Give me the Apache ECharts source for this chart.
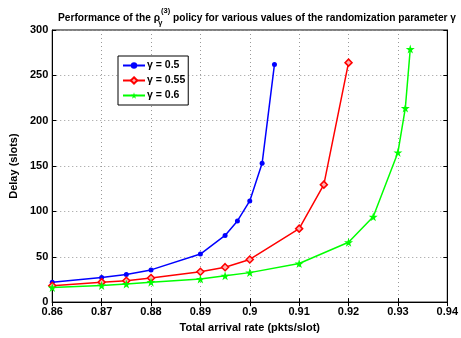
<!DOCTYPE html>
<html>
<head>
<meta charset="utf-8">
<script src="https://cdn.jsdelivr.net/npm/echarts@6/dist/echarts.min.js"></script>
<style>
html, body { margin: 0; padding: 0; background: #fff; }
#chart { width: 461px; height: 338px; }
</style>
</head>
<body>
<div id="chart"></div>
<script>
var xBlue = [0.86, 0.87, 0.875, 0.88, 0.89, 0.895, 0.8975, 0.9, 0.9025, 0.905];
var yBlue = [22, 27, 30.5, 35.5, 53, 73.5, 89.5, 111.5, 153, 262];
var xRed = [0.86, 0.87, 0.875, 0.88, 0.89, 0.895, 0.9, 0.91, 0.915, 0.92];
var yRed = [18, 22, 23.5, 26.5, 33.5, 38.5, 47, 81, 129.5, 264];
var xGreen = [0.86, 0.87, 0.875, 0.88, 0.89, 0.895, 0.9, 0.91, 0.92, 0.925, 0.93, 0.9315, 0.9325];
var yGreen = [16, 18.3, 20, 22, 25.5, 29, 32.5, 42.5, 66, 94, 165, 214, 279];
var seriesNames = ['γ = 0.5', 'γ = 0.55', 'γ = 0.6'];
var xTicks = [0.86, 0.87, 0.88, 0.89, 0.9, 0.91, 0.92, 0.93, 0.94];

var star = 'path://M50,0 L61,35 L98,35 L68,57 L79,91 L50,70 L21,91 L32,57 L2,35 L39,35 Z';

function pairs(xs, ys) {
    return xs.map(function (x, i) { return [x, ys[i]]; });
}

var chartDom = document.getElementById('chart');
var myChart = echarts.init(chartDom);
var font = 'Liberation Sans, Arial, sans-serif';

var option = {
    animation: false,
    textStyle: { fontFamily: font },
    title: {
        left: 252,
        textAlign: 'center',
        top: 0,
        text: '{n|Performance of the ρ}{sub|γ}{sup|(3)}{n| policy for various values of the randomization parameter γ}',
        textStyle: {
            fontSize: 10.2,
            fontWeight: 'bold',
            color: '#000',
            rich: {
                n: { fontSize: 10.2, fontWeight: 'bold', color: '#000', padding: [4, 0, 0, 0] },
                sup: { fontSize: 7.5, fontWeight: 'bold', color: '#000', padding: [0, 0, 10, 0] },
                sub: { fontSize: 7.5, color: '#000', width: 1, padding: [14, 0, 0, 0] }
            }
        }
    },
    legend: {
        orient: 'vertical',
        left: 118,
        top: 56,
        padding: [4, 3, 4, 4],
        itemGap: 4,
        itemWidth: 22,
        itemHeight: 8,
        backgroundColor: '#fff',
        borderColor: '#000',
        borderWidth: 1,
        borderRadius: 0,
        textStyle: { fontSize: 10.5, fontWeight: 'bold', color: '#000', padding: [0, 0, 0, -3] },
        data: seriesNames
    },
    grid: {
        left: 40,
        right: 7,
        top: 30,
        bottom: 34,
        show: true,
        borderColor: '#000',
        borderWidth: 1
    },
    xAxis: [{
        type: 'value',
        min: 0.86,
        max: 0.94,
        interval: 0.01,
        name: 'Total arrival rate (pkts/slot)',
        nameLocation: 'middle',
        nameGap: 17,
        nameTextStyle: { fontSize: 11, fontWeight: 'bold', color: '#000' },
        axisLine: { lineStyle: { color: '#000' } },
        axisTick: { inside: true, length: 4, lineStyle: { color: '#000' } },
        axisLabel: {
            fontSize: 11, fontWeight: 'bold', color: '#000', margin: 4,
            formatter: function (v) {
                var r = Math.round(v * 100) / 100;
                return xTicks.indexOf(r) >= 0 ? String(r) : '';
            }
        },
        splitLine: { show: true, lineStyle: { color: '#999', type: [1, 3] } }
    }, {
        type: 'value',
        position: 'top',
        min: 0.86,
        max: 0.94,
        interval: 0.01,
        axisLine: { lineStyle: { color: '#000' } },
        axisTick: { inside: true, length: 4, lineStyle: { color: '#000' } },
        axisLabel: { show: false },
        splitLine: { show: false }
    }],
    yAxis: [{
        type: 'value',
        min: 0,
        max: 300,
        interval: 50,
        name: 'Delay (slots)',
        nameLocation: 'middle',
        nameGap: 27,
        nameTextStyle: { fontSize: 11, fontWeight: 'bold', color: '#000' },
        axisLine: { show: true, lineStyle: { color: '#000' } },
        axisTick: { show: true, inside: true, length: 4, lineStyle: { color: '#000' } },
        axisLabel: { fontSize: 11, fontWeight: 'bold', color: '#000', margin: 4 },
        splitLine: { show: true, lineStyle: { color: '#999', type: [1, 3] } }
    }, {
        type: 'value',
        position: 'right',
        min: 0,
        max: 300,
        interval: 50,
        axisLine: { show: true, lineStyle: { color: '#000' } },
        axisTick: { show: true, inside: true, length: 4, lineStyle: { color: '#000' } },
        axisLabel: { show: false },
        splitLine: { show: false }
    }],
    series: [{
        name: seriesNames[0],
        type: 'line',
        data: pairs(xBlue, yBlue),
        color: '#0000ff',
        symbol: 'circle',
        symbolSize: 5,
        lineStyle: { width: 1.5, color: '#0000ff' },
        itemStyle: { color: '#0000ff' }
    }, {
        name: seriesNames[1],
        type: 'line',
        data: pairs(xRed, yRed),
        color: '#ff0000',
        symbol: 'diamond',
        symbolSize: 7,
        lineStyle: { width: 1.5, color: '#ff0000' },
        itemStyle: { color: '#ffb0b0', borderColor: '#ff0000', borderWidth: 1.5 }
    }, {
        name: seriesNames[2],
        type: 'line',
        data: pairs(xGreen, yGreen),
        color: '#00ff00',
        symbol: star,
        symbolSize: 9,
        lineStyle: { width: 1.5, color: '#00ff00' },
        itemStyle: { color: '#00ff00' }
    }]
};

option && myChart.setOption(option);
</script>
</body>
</html>
